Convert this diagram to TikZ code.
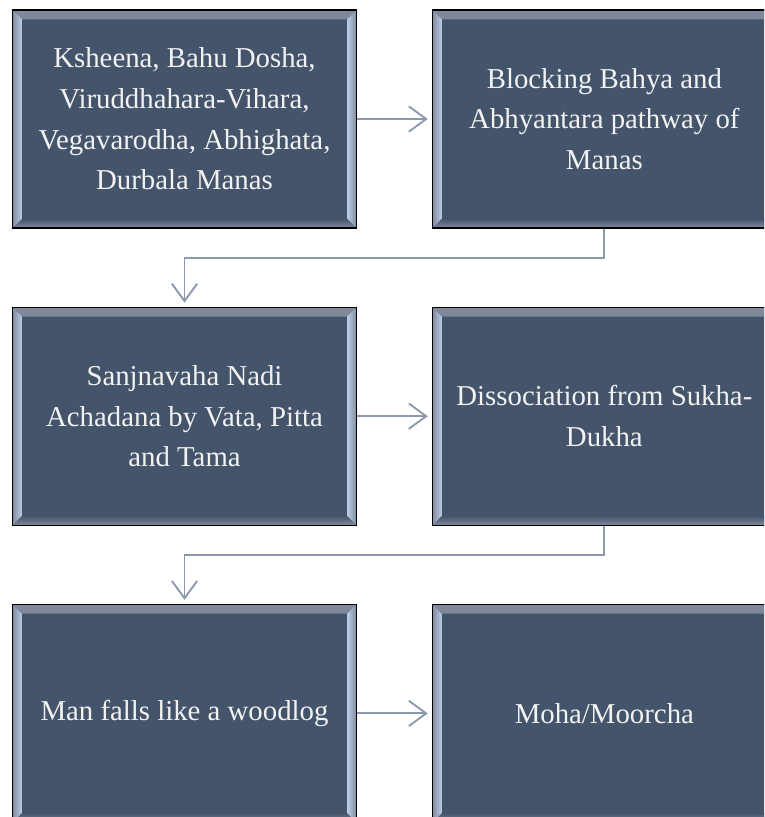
\documentclass[tikz,border=0pt]{standalone}
\usepackage{fontspec}
\setmainfont{Liberation Serif}
\usetikzlibrary{arrows.meta,positioning}
\definecolor{slate}{RGB}{68,84,106}
\definecolor{bevlight}{RGB}{186,204,230}
\definecolor{bevgray}{RGB}{128,138,156}
\definecolor{boxtext}{RGB}{242,242,242}
\definecolor{flowgray}{RGB}{140,152,172}

\tikzset{
  stage/.style={rectangle, draw=black, line width=0.9pt, fill=slate, text=boxtext,
    minimum width=258pt, minimum height=163.5pt, inner sep=0pt, align=center,
    font=\fontsize{21.6}{30.5}\selectfont,
    path picture={
      % top and bottom bevel
      \shade[top color=bevgray, bottom color=slate]
        (path picture bounding box.north west) -- (path picture bounding box.north east)
        -- ([shift={(-7pt,-7pt)}]path picture bounding box.north east)
        -- ([shift={(7pt,-7pt)}]path picture bounding box.north west) -- cycle;
      \shade[top color=slate, bottom color=bevgray]
        (path picture bounding box.south west) -- (path picture bounding box.south east)
        -- ([shift={(-7pt,7pt)}]path picture bounding box.south east)
        -- ([shift={(7pt,7pt)}]path picture bounding box.south west) -- cycle;
      % side bevels
      \shade[left color=bevgray, right color=bevlight]
        (path picture bounding box.north west)
        -- ([shift={(7pt,-7pt)}]path picture bounding box.north west)
        -- ([shift={(7pt,7pt)}]path picture bounding box.south west)
        -- (path picture bounding box.south west) -- cycle;
      \shade[left color=bevlight, right color=bevgray]
        (path picture bounding box.north east)
        -- ([shift={(-7pt,-7pt)}]path picture bounding box.north east)
        -- ([shift={(-7pt,7pt)}]path picture bounding box.south east)
        -- (path picture bounding box.south east) -- cycle;
    }},
  flow/.style={draw=flowgray, line width=1.4pt,
    -{Straight Barb[length=13pt,width=19pt,line width=1.4pt]}, shorten >=3pt}
}

\begin{document}
\begin{tikzpicture}[x=0.75pt,y=-0.75pt]
\useasboundingbox (0,0) rectangle (764,817);
\clip (0,0) rectangle (764,817);

% ============ row 1 ============
\node[stage] (cause) at (184.5,119) {Ksheena, Bahu Dosha,\\Viruddhahara-Vihara,\\Vegavarodha, Abhighata,\\Durbala Manas};
\node[stage, right=56pt of cause] (block) {Blocking Bahya and\\Abhyantara pathway of\\Manas};

% ============ row 2 ============
\node[stage, below=58.5pt of cause] (nadi) {Sanjnavaha Nadi\\Achadana by Vata, Pitta\\and Tama};
\node[stage, right=56pt of nadi] (dissoc) {Dissociation from Sukha-\\Dukha};

% ============ row 3 ============
\node[stage, below=58.5pt of nadi] (fall) {Man falls like a woodlog};
\node[stage, right=56pt of fall] (moha) {Moha/Moorcha};

% connectors
\draw[flow] (cause) -- (block);
\draw[flow] (block.south) -- ++(0,29.5) -| (nadi.north);
\draw[flow] (nadi) -- (dissoc);
\draw[flow] (dissoc.south) -- ++(0,29.5) -| (fall.north);
\draw[flow] (fall) -- (moha);

\end{tikzpicture}
\end{document}
